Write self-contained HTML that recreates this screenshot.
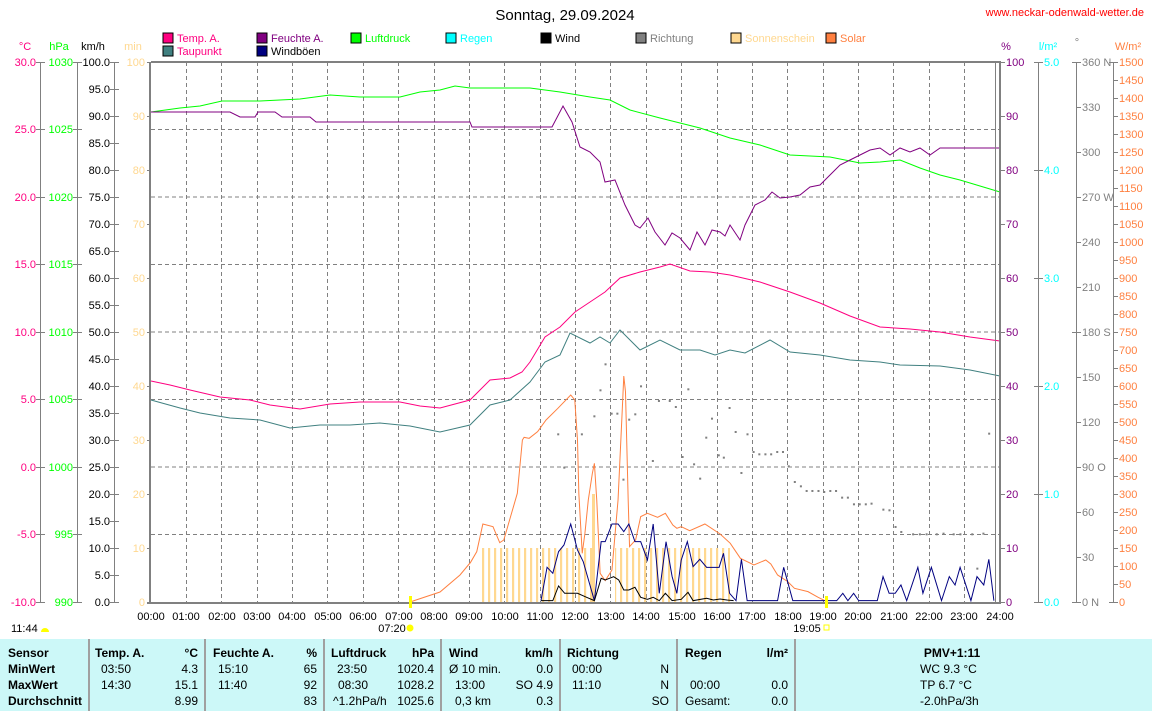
<!DOCTYPE html>
<html><head><meta charset="utf-8"><style>
body{margin:0;background:#fff;}
svg{display:block;font-family:"Liberation Sans",sans-serif;}
</style></head><body>
<svg width="1152" height="711" viewBox="0 0 1152 711" xmlns="http://www.w3.org/2000/svg">
<rect width="1152" height="711" fill="#fff"/>
<text x="565" y="20" font-size="15" text-anchor="middle">Sonntag, 29.09.2024</text>
<text x="1144" y="16" font-size="11" fill="#ff0000" text-anchor="end">www.neckar-odenwald-wetter.de</text>

<!-- legend -->
<g font-size="11">
<rect x="163" y="33" width="10" height="10" fill="#ff0080" stroke="#000"/><text x="177" y="42" fill="#ff0080">Temp. A.</text>
<rect x="257" y="33" width="10" height="10" fill="#800080" stroke="#000"/><text x="271" y="42" fill="#800080">Feuchte A.</text>
<rect x="351" y="33" width="10" height="10" fill="#00ff00" stroke="#000"/><text x="365" y="42" fill="#00ff00">Luftdruck</text>
<rect x="446" y="33" width="10" height="10" fill="#00ffff" stroke="#000"/><text x="460" y="42" fill="#00ffff">Regen</text>
<rect x="541" y="33" width="10" height="10" fill="#000" stroke="#000"/><text x="555" y="42">Wind</text>
<rect x="636" y="33" width="10" height="10" fill="#808080" stroke="#000"/><text x="650" y="42" fill="#808080">Richtung</text>
<rect x="731" y="33" width="10" height="10" fill="#ffd890" stroke="#000"/><text x="745" y="42" fill="#ffd890">Sonnenschein</text>
<rect x="826" y="33" width="10" height="10" fill="#ff8040" stroke="#000"/><text x="840" y="42" fill="#ff8040">Solar</text>
<rect x="163" y="46" width="10" height="10" fill="#408080" stroke="#000"/><text x="177" y="55" fill="#ff0080">Taupunkt</text>
<rect x="257" y="46" width="10" height="10" fill="#000080" stroke="#000"/><text x="271" y="55">Windböen</text>
</g>

<!-- axis titles -->
<g font-size="11" text-anchor="middle">
<text x="25" y="50" fill="#ff0080">°C</text>
<text x="59" y="50" fill="#00ff00">hPa</text>
<text x="93" y="50">km/h</text>
<text x="133" y="50" fill="#ffd890">min</text>
<text x="1006" y="50" fill="#800080">%</text>
<text x="1048" y="50" fill="#00ffff">l/m²</text>
<text x="1077" y="46" fill="#808080">°</text>
<text x="1128" y="50" fill="#ff8040">W/m²</text>
</g>

<!-- grid -->
<g stroke="#808080" stroke-dasharray="4,3" stroke-width="1">
<path d="M186.5 62V602M221.5 62V602M257.5 62V602M292.5 62V602M327.5 62V602M363.5 62V602M398.5 62V602M434.5 62V602M469.5 62V602M504.5 62V602M540.5 62V602M575.5 62V602M610.5 62V602M646.5 62V602M681.5 62V602M717.5 62V602M752.5 62V602M787.5 62V602M823.5 62V602M858.5 62V602M893.5 62V602M929.5 62V602M964.5 62V602"/>
<path d="M151 129.5H1000M151 197H1000M151 264.5H1000M151 332H1000M151 399.5H1000M151 467H1000M151 534.5H1000"/>
</g>

<!-- left axes -->
<g stroke="#808080" stroke-width="1" fill="none">
<path d="M40.5 62V602M77.5 62V602M114.5 62V602M1038.5 62V602M1076.5 62V602M1113.5 62V602"/>
<path d="M36 62.5H45M36 129.5H45M36 197.5H45M36 264.5H45M36 332.5H45M36 399.5H45M36 467.5H45M36 534.5H45M36 602.5H45"/>
<path d="M73 62.5H82M73 129.5H82M73 197.5H82M73 264.5H82M73 332.5H82M73 399.5H82M73 467.5H82M73 534.5H82M73 602.5H82"/>
<path d="M110 62.5H119M110 89.5H119M110 116.5H119M110 143.5H119M110 170.5H119M110 197.5H119M110 224.5H119M110 251.5H119M110 278.5H119M110 305.5H119M110 332.5H119M110 359.5H119M110 386.5H119M110 413.5H119M110 440.5H119M110 467.5H119M110 494.5H119M110 521.5H119M110 548.5H119M110 575.5H119M110 602.5H119"/>
<path d="M147 62.5H151M147 116.5H151M147 170.5H151M147 224.5H151M147 278.5H151M147 332.5H151M147 386.5H151M147 440.5H151M147 494.5H151M147 548.5H151M147 602.5H151"/>
<path d="M1000 62.5H1005M1000 116.5H1005M1000 170.5H1005M1000 224.5H1005M1000 278.5H1005M1000 332.5H1005M1000 386.5H1005M1000 440.5H1005M1000 494.5H1005M1000 548.5H1005M1000 602.5H1005"/>
<path d="M1034 62.5H1043M1034 170.5H1043M1034 278.5H1043M1034 386.5H1043M1034 494.5H1043M1034 602.5H1043"/>
<path d="M1072 62.5H1081M1076 107.5H1081M1076 152.5H1081M1076 197.5H1081M1076 242.5H1081M1076 287.5H1081M1072 332.5H1081M1076 377.5H1081M1076 422.5H1081M1076 467.5H1081M1076 512.5H1081M1076 557.5H1081M1072 602.5H1081"/>
<path d="M1109 62.5H1118M1113 80.5H1118M1113 98.5H1118M1113 116.5H1118M1113 134.5H1118M1113 152.5H1118M1113 170.5H1118M1113 188.5H1118M1113 206.5H1118M1113 224.5H1118M1113 242.5H1118M1113 260.5H1118M1113 278.5H1118M1113 296.5H1118M1113 314.5H1118M1113 332.5H1118M1113 350.5H1118M1113 368.5H1118M1113 386.5H1118M1113 404.5H1118M1113 422.5H1118M1113 440.5H1118M1113 458.5H1118M1113 476.5H1118M1113 494.5H1118M1113 512.5H1118M1113 530.5H1118M1113 548.5H1118M1113 566.5H1118M1113 584.5H1118M1109 602.5H1118"/>
</g>

<g font-size="11">
<g fill="#ff0080" text-anchor="end">
<text x="36" y="66">30.0</text><text x="36" y="133">25.0</text><text x="36" y="201">20.0</text><text x="36" y="268">15.0</text><text x="36" y="336">10.0</text><text x="36" y="403">5.0</text><text x="36" y="471">0.0</text><text x="36" y="538">-5.0</text><text x="36" y="606">-10.0</text>
</g>
<g fill="#00ff00" text-anchor="end">
<text x="73" y="66">1030</text><text x="73" y="133">1025</text><text x="73" y="201">1020</text><text x="73" y="268">1015</text><text x="73" y="336">1010</text><text x="73" y="403">1005</text><text x="73" y="471">1000</text><text x="73" y="538">995</text><text x="73" y="606">990</text>
</g>
<g fill="#000" text-anchor="end">
<text x="110" y="66">100.0</text><text x="110" y="93">95.0</text><text x="110" y="120">90.0</text><text x="110" y="147">85.0</text><text x="110" y="174">80.0</text><text x="110" y="201">75.0</text><text x="110" y="228">70.0</text><text x="110" y="255">65.0</text><text x="110" y="282">60.0</text><text x="110" y="309">55.0</text><text x="110" y="336">50.0</text><text x="110" y="363">45.0</text><text x="110" y="390">40.0</text><text x="110" y="417">35.0</text><text x="110" y="444">30.0</text><text x="110" y="471">25.0</text><text x="110" y="498">20.0</text><text x="110" y="525">15.0</text><text x="110" y="552">10.0</text><text x="110" y="579">5.0</text><text x="110" y="606">0.0</text>
</g>
<g fill="#ffd890" text-anchor="end">
<text x="145" y="66">100</text><text x="145" y="120">90</text><text x="145" y="174">80</text><text x="145" y="228">70</text><text x="145" y="282">60</text><text x="145" y="336">50</text><text x="145" y="390">40</text><text x="145" y="444">30</text><text x="145" y="498">20</text><text x="145" y="552">10</text><text x="145" y="606">0</text>
</g>
<g fill="#800080">
<text x="1006" y="66">100</text><text x="1006" y="120">90</text><text x="1006" y="174">80</text><text x="1006" y="228">70</text><text x="1006" y="282">60</text><text x="1006" y="336">50</text><text x="1006" y="390">40</text><text x="1006" y="444">30</text><text x="1006" y="498">20</text><text x="1006" y="552">10</text><text x="1006" y="606">0</text>
</g>
<g fill="#00ffff">
<text x="1044" y="66">5.0</text><text x="1044" y="174">4.0</text><text x="1044" y="282">3.0</text><text x="1044" y="390">2.0</text><text x="1044" y="498">1.0</text><text x="1044" y="606">0.0</text>
</g>
<g fill="#808080">
<text x="1082" y="66">360 N</text><text x="1082" y="111">330</text><text x="1082" y="156">300</text><text x="1082" y="201">270 W</text><text x="1082" y="246">240</text><text x="1082" y="291">210</text><text x="1082" y="336">180 S</text><text x="1082" y="381">150</text><text x="1082" y="426">120</text><text x="1082" y="471">90  O</text><text x="1082" y="516">60</text><text x="1082" y="561">30</text><text x="1082" y="606">0  N</text>
</g>
<g fill="#ff8040">
<text x="1119" y="66">1500</text><text x="1119" y="84">1450</text><text x="1119" y="102">1400</text><text x="1119" y="120">1350</text><text x="1119" y="138">1300</text><text x="1119" y="156">1250</text><text x="1119" y="174">1200</text><text x="1119" y="192">1150</text><text x="1119" y="210">1100</text><text x="1119" y="228">1050</text><text x="1119" y="246">1000</text><text x="1119" y="264">950</text><text x="1119" y="282">900</text><text x="1119" y="300">850</text><text x="1119" y="318">800</text><text x="1119" y="336">750</text><text x="1119" y="354">700</text><text x="1119" y="372">650</text><text x="1119" y="390">600</text><text x="1119" y="408">550</text><text x="1119" y="426">500</text><text x="1119" y="444">450</text><text x="1119" y="462">400</text><text x="1119" y="480">350</text><text x="1119" y="498">300</text><text x="1119" y="516">250</text><text x="1119" y="534">200</text><text x="1119" y="552">150</text><text x="1119" y="570">100</text><text x="1119" y="588">50</text><text x="1119" y="606">0</text>
</g>
</g>

<!-- sunshine bars -->
<defs>
<pattern id="sb" x="482" y="0" width="6" height="10" patternUnits="userSpaceOnUse"><rect x="0" y="0" width="2.2" height="10" fill="#ffd890"/></pattern>
</defs>
<rect x="482" y="548" width="112" height="54" fill="url(#sb)"/>
<rect x="592" y="494" width="3" height="108" fill="#ffd890"/>
<rect x="615" y="548" width="115" height="54" fill="url(#sb)"/>

<!-- direction dots -->
<g transform="translate(470,360) scale(0.338,0.3333)" fill="#808080">
<g id="d">
<rect x="258" y="220" width="6" height="6"/><rect x="276" y="320" width="6" height="6"/><rect x="328" y="220" width="6" height="6"/><rect x="365" y="166" width="6" height="6"/><rect x="383" y="88" width="6" height="6"/><rect x="398" y="10" width="6" height="6"/><rect x="416" y="158" width="6" height="6"/><rect x="433" y="158" width="6" height="6"/><rect x="451" y="356" width="6" height="6"/><rect x="468" y="176" width="6" height="6"/><rect x="486" y="160" width="6" height="6"/><rect x="503" y="76" width="6" height="6"/><rect x="538" y="300" width="6" height="6"/><rect x="556" y="120" width="6" height="6"/><rect x="588" y="120" width="6" height="6"/><rect x="606" y="138" width="6" height="6"/><rect x="626" y="288" width="6" height="6"/><rect x="643" y="85" width="6" height="6"/><rect x="660" y="310" width="6" height="6"/><rect x="678" y="353" width="6" height="6"/><rect x="696" y="230" width="6" height="6"/><rect x="713" y="173" width="6" height="6"/><rect x="733" y="283" width="6" height="6"/><rect x="748" y="290" width="6" height="6"/><rect x="765" y="141" width="6" height="6"/><rect x="783" y="213" width="6" height="6"/><rect x="800" y="336" width="6" height="6"/><rect x="818" y="220" width="6" height="6"/><rect x="836" y="273" width="6" height="6"/><rect x="853" y="280" width="6" height="6"/><rect x="871" y="280" width="6" height="6"/><rect x="888" y="280" width="6" height="6"/><rect x="906" y="273" width="6" height="6"/><rect x="923" y="273" width="6" height="6"/><rect x="940" y="316" width="6" height="6"/><rect x="958" y="363" width="6" height="6"/><rect x="976" y="376" width="6" height="6"/><rect x="993" y="390" width="6" height="6"/><rect x="1010" y="390" width="6" height="6"/><rect x="1028" y="390" width="6" height="6"/><rect x="1045" y="393" width="6" height="6"/><rect x="1063" y="390" width="6" height="6"/><rect x="1080" y="390" width="6" height="6"/><rect x="1098" y="410" width="6" height="6"/><rect x="1115" y="410" width="6" height="6"/><rect x="1133" y="430" width="6" height="6"/><rect x="1150" y="430" width="6" height="6"/><rect x="1168" y="430" width="6" height="6"/><rect x="1185" y="428" width="6" height="6"/><rect x="1220" y="446" width="6" height="6"/><rect x="1238" y="448" width="6" height="6"/><rect x="1256" y="498" width="6" height="6"/><rect x="1273" y="513" width="6" height="6"/><rect x="1308" y="520" width="6" height="6"/><rect x="1328" y="520" width="6" height="6"/><rect x="1348" y="520" width="6" height="6"/><rect x="1378" y="520" width="6" height="6"/><rect x="1398" y="518" width="6" height="6"/><rect x="1428" y="520" width="6" height="6"/><rect x="1448" y="520" width="6" height="6"/><rect x="1483" y="520" width="6" height="6"/><rect x="1516" y="518" width="6" height="6"/><rect x="1533" y="218" width="6" height="6"/><rect x="1498" y="623" width="6" height="6"/>
</g>
</g>

<!-- series -->
<g fill="none" stroke-width="1">
<polyline stroke="#00ff00" points="151,112 180,108 200,106 222,101 260,101 300,99 330,95 360,97 400,97 420,92 440,90 455,86 470,88 530,88 560,92 590,97 610,100 630,110 660,118 700,128 730,138 760,145 790,155 830,157 860,163 880,162 900,160 920,168 940,175 960,180 1000,192"/>
<polyline stroke="#800080" points="151,112 230,112 240,117 255,117 258,112 275,112 282,117 310,117 316,122 470,122 472,127 552,127 563,106 572,122 580,147 590,152 600,162 605,182 615,180 625,205 635,225 640,228 648,218 655,232 665,245 672,233 680,238 690,250 697,232 705,245 712,230 720,232 725,236 730,225 740,240 745,225 755,205 765,200 772,192 780,198 790,197 800,195 810,187 820,185 830,175 840,165 850,160 860,155 870,150 880,148 890,155 900,148 910,152 920,148 930,155 940,148 1000,148"/>
<polyline stroke="#ff0080" points="151,381 170,385 190,390 220,397 250,400 270,405 300,409 330,404 360,402 400,402 420,406 440,408 470,400 490,380 510,378 522,372 530,362 545,337 560,327 575,312 590,302 605,292 620,278 640,272 660,267 670,264 690,271 710,272 730,275 760,282 790,292 820,303 850,316 880,327 910,329 940,332 970,337 1000,341"/>
<polyline stroke="#408080" points="151,400 180,408 200,413 230,418 260,420 290,428 320,425 350,425 380,423 410,426 440,432 470,425 490,405 510,400 530,382 545,362 560,355 570,333 590,343 600,337 610,343 620,330 630,340 640,350 660,340 680,350 700,350 715,355 730,350 745,353 770,340 790,352 820,355 850,360 880,362 900,365 940,366 970,370 1000,376"/>
<polyline stroke="#ff8040" points="410,602 440,592 460,575 470,563"/>
<g transform="translate(470,360) scale(0.338,0.3333)">
<polyline vector-effect="non-scaling-stroke" stroke="#ff8040" points="0,610 20,575 38,492 68,500 88,548 100,540 120,470 140,400 155,240 160,232 175,235 200,215 225,180 260,145 298,105 310,120 318,240 322,400 332,580 340,520 350,420 362,340 368,310 375,420 385,640 400,662 420,630 438,420 450,160 455,48 460,95 468,420 472,560 490,540 505,470 525,460 555,472 578,460 600,495 612,505 625,500 650,512 695,492 740,522 770,550 800,595 840,615 875,600 890,612 910,645 940,665 960,685 1000,695 1030,712 1050,722"/>
<polyline vector-effect="non-scaling-stroke" stroke="#000080" points="210,722 228,622 245,640 262,575 278,555 298,492 318,570 335,605 368,722 388,545 400,545 420,492 438,492 455,515 470,492 488,545 505,545 525,600 542,492 560,700 580,545 598,650 612,700 625,600 643,545 660,620 680,598 700,622 737,622 750,580 768,700 787,722 803,598 820,722 910,722 928,622 955,722 1085,722 1103,700 1118,722 1135,700 1150,722 1205,722 1222,650 1240,700 1258,700 1275,675 1292,722 1325,622 1340,700 1365,622 1395,722 1418,650 1435,675 1450,622 1482,722 1500,650 1520,675 1535,598 1550,722"/>
<polyline vector-effect="non-scaling-stroke" stroke="#000" points="210,722 245,722 262,678 280,700 318,700 345,712 368,722 388,655 400,660 425,650 440,660 455,690 470,690 488,682 505,712 525,718 542,712 560,722 578,700 598,722 625,718 645,697 660,722 700,715 720,720 740,717 760,720 780,722"/>
</g>
</g>

<!-- plot frame -->
<path d="M151 62H1000V602" fill="none" stroke="#808080" stroke-width="2"/>
<path d="M995.5 62V602" stroke="#808080" stroke-width="1"/>
<path d="M150 62V603H1001" fill="none" stroke="#808080" stroke-width="2"/>
<path d="M147 603.5H151" stroke="#808080"/>
<!-- sunrise/sunset markers -->
<rect x="409" y="596" width="3" height="12" fill="#ffff00"/>
<rect x="825" y="596" width="3" height="12" fill="#ffff00"/>

<!-- time labels -->
<g font-size="11" text-anchor="middle">
<text x="151" y="620">00:00</text><text x="186" y="620">01:00</text><text x="222" y="620">02:00</text><text x="257" y="620">03:00</text><text x="292" y="620">04:00</text><text x="328" y="620">05:00</text><text x="363" y="620">06:00</text><text x="399" y="620">07:00</text><text x="434" y="620">08:00</text><text x="469" y="620">09:00</text><text x="505" y="620">10:00</text><text x="540" y="620">11:00</text><text x="575" y="620">12:00</text><text x="611" y="620">13:00</text><text x="646" y="620">14:00</text><text x="682" y="620">15:00</text><text x="717" y="620">16:00</text><text x="752" y="620">17:00</text><text x="788" y="620">18:00</text><text x="823" y="620">19:00</text><text x="858" y="620">20:00</text><text x="894" y="620">21:00</text><text x="929" y="620">22:00</text><text x="964" y="620">23:00</text><text x="1000" y="620">24:00</text>
<text x="392" y="632">07:20</text><text x="807" y="632">19:05</text>
</g>
<text x="11" y="632" font-size="11">11:44</text>
<path d="M41 632a4 4 0 0 1 8 0z" fill="#ffff00"/>
<circle cx="410" cy="628" r="3.5" fill="#ffff00"/>
<rect x="824" y="625" width="5" height="5" fill="none" stroke="#ffff00"/>

<!-- table -->
<rect x="0" y="639" width="1152" height="72" fill="#ccf8f8"/>
<g stroke="#a0a0a0" stroke-width="2">
<path d="M89 639V711M205 639V711M324 639V711M441 639V711M560 639V711M677 639V711M795 639V711"/>
</g>
<g font-size="12">
<g font-weight="bold">
<text x="8" y="657">Sensor</text><text x="8" y="673">MinWert</text><text x="8" y="689">MaxWert</text><text x="8" y="705">Durchschnitt</text>
<text x="95" y="657">Temp. A.</text><text x="198" y="657" text-anchor="end">°C</text>
<text x="213" y="657">Feuchte A.</text><text x="317" y="657" text-anchor="end">%</text>
<text x="331" y="657">Luftdruck</text><text x="434" y="657" text-anchor="end">hPa</text>
<text x="449" y="657">Wind</text><text x="553" y="657" text-anchor="end">km/h</text>
<text x="567" y="657">Richtung</text>
<text x="685" y="657">Regen</text><text x="788" y="657" text-anchor="end">l/m²</text>
<text x="952" y="657" text-anchor="middle">PMV+1:11</text>
</g>
<text x="101" y="673">03:50</text><text x="198" y="673" text-anchor="end">4.3</text>
<text x="101" y="689">14:30</text><text x="198" y="689" text-anchor="end">15.1</text>
<text x="198" y="705" text-anchor="end">8.99</text>
<text x="218" y="673">15:10</text><text x="317" y="673" text-anchor="end">65</text>
<text x="218" y="689">11:40</text><text x="317" y="689" text-anchor="end">92</text>
<text x="317" y="705" text-anchor="end">83</text>
<text x="337" y="673">23:50</text><text x="434" y="673" text-anchor="end">1020.4</text>
<text x="338" y="689">08:30</text><text x="434" y="689" text-anchor="end">1028.2</text>
<text x="333" y="705">^1.2hPa/h</text><text x="434" y="705" text-anchor="end">1025.6</text>
<text x="449" y="673">Ø 10 min.</text><text x="553" y="673" text-anchor="end">0.0</text>
<text x="455" y="689">13:00</text><text x="553" y="689" text-anchor="end">SO 4.9</text>
<text x="455" y="705">0,3 km</text><text x="553" y="705" text-anchor="end">0.3</text>
<text x="572" y="673">00:00</text><text x="669" y="673" text-anchor="end">N</text>
<text x="572" y="689">11:10</text><text x="669" y="689" text-anchor="end">N</text>
<text x="669" y="705" text-anchor="end">SO</text>
<text x="690" y="689">00:00</text><text x="788" y="689" text-anchor="end">0.0</text>
<text x="685" y="705">Gesamt:</text><text x="788" y="705" text-anchor="end">0.0</text>
<text x="920" y="673">WC 9.3 °C</text>
<text x="920" y="689">TP 6.7 °C</text>
<text x="920" y="705">-2.0hPa/3h</text>
</g>
</svg>
</body></html>
